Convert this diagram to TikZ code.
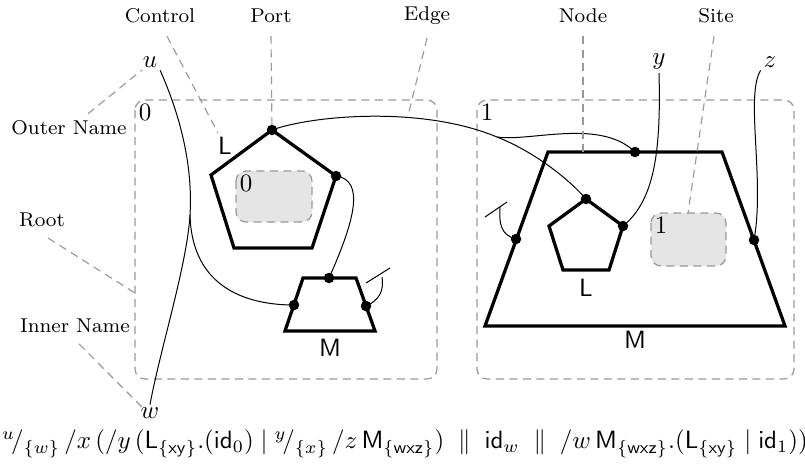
\documentclass[tikz,border=0pt]{standalone}
\usetikzlibrary{calc}
\begin{document}
\begin{tikzpicture}[x=0.4pt,y=-0.4pt,
  lead/.style={draw=black!40, line width=0.45pt, dash pattern=on 3.2pt off 2.2pt},
  rootbox/.style={draw=black!40, line width=0.5pt, dash pattern=on 3.2pt off 2.2pt, rounded corners=4pt},
  sitebox/.style={draw=black!40, fill=black!10, line width=0.5pt, dash pattern=on 3.2pt off 2.2pt, rounded corners=4pt},
  ctrl/.style={draw=black, line width=1.3pt},
  link/.style={draw=black, line width=0.4pt},
  port/.style={circle, fill=black, inner sep=0pt, minimum size=4.2pt},
  lbl/.style={font=\footnotesize, inner sep=1pt},
  sflbl/.style={font=\sffamily, inner sep=1pt},
  namelbl/.style={inner sep=1pt}]
\useasboundingbox (0,0) rectangle (805,473);

% roots
\draw[rootbox] (135,100) rectangle (437,379);
\draw[rootbox] (477,100) rectangle (794,379);
\node[inner sep=0pt] (r0) at (145,112) {0};
\node[inner sep=0pt] (r1) at (487,112) {1};

% sites
\draw[sitebox] (236,171) rectangle (312,222);
\node[inner sep=0pt] (s0) at (246,183) {0};
\draw[sitebox] (651,213) rectangle (726,266);
\node[inner sep=0pt] (s1) at (661,225) {1};

% controls
\draw[ctrl] (272,130) -- (336,176) -- (312,248) -- (234,248) -- (211,175) -- cycle;
\draw[ctrl] (303,278) -- (356,278) -- (375,331) -- (285,331) -- cycle;
\draw[ctrl] (548,152) -- (722,152) -- (785,326) -- (485,326) -- cycle;
\draw[ctrl] (586,199) -- (623,226) -- (609,270) -- (563,270) -- (549,226) -- cycle;
\node[sflbl] (lL0) at (225,146) {L};
\node[sflbl] (lM0) at (330,348) {M};
\node[sflbl] (lM1) at (635,340) {M};
\node[sflbl] (lL1) at (586,288) {L};

% ports
\coordinate (pL0t) at (272,130);
\coordinate (pL0r) at (336,176);
\coordinate (pM0t) at (329,278);
\coordinate (pM0l) at (294,305);
\coordinate (pM0r) at (366,306);
\coordinate (pM1t) at (635,152);
\coordinate (pM1l) at (516,239);
\coordinate (pM1r) at (754,240);
\coordinate (pL1t) at (586,199);
\coordinate (pL1r) at (623,226);

% names
\node[namelbl] (u) at (150,62) {$u$};
\node[namelbl] (w) at (150,413) {$w$};
\node[namelbl] (y) at (659,62) {$y$};
\node[namelbl] (z) at (770,62) {$z$};

% junctions and idle-edge bars
\coordinate (J1) at (190,215);
\coordinate (J2) at (497,137);
\coordinate (b0a) at (366,283);
\coordinate (b0b) at (390,268);
\coordinate (e0) at (382,277);
\coordinate (b1a) at (485,217);
\coordinate (b1b) at (507,202);
\coordinate (e1) at (500,207);

% links
\draw[link] (u.south east) .. controls (180,115) and (193,165) .. (J1)
   .. controls (187,265) and (160,350) .. (w.north);
\draw[link] (J1) .. controls (192,290) and (250,305) .. (pM0l);
\draw[link] (pL0t) .. controls (310,116) and (420,105) .. (J2);
\draw[link] (J2) .. controls (530,150) and (565,175) .. (pL1t);
\draw[link] (J2) .. controls (530,142) and (600,118) .. (pM1t);
\draw[link] (pL0r) .. controls (365,180) and (355,220) .. (pM0t);
\draw[link] (pM0r) .. controls (380,300) and (384,290) .. (e0);
\draw[link] (b0a) -- (b0b);
\draw[link] (pM1l) .. controls (500,235) and (499,222) .. (e1);
\draw[link] (b1a) -- (b1b);
\draw[link] (y.south) .. controls (661,150) and (655,200) .. (pL1r);
\draw[link] (z.south west) .. controls (745,95) and (765,180) .. (pM1r);

% port dots
\foreach \p in {pL0t,pL0r,pM0t,pM0l,pM0r,pM1t,pM1l,pM1r,pL1t,pL1r}
  \node[port] at (\p) {};

% annotation labels
\node[lbl] (control) at (160,16) {Control};
\node[lbl] (portlbl) at (271,16) {Port};
\node[lbl] (edge) at (427,16) {Edge};
\node[lbl] (nodelbl) at (583,16) {Node};
\node[lbl] (site) at (716,16) {Site};
\node[lbl] (outer) at (69,128) {Outer Name};
\node[lbl] (root) at (42,220) {Root};
\node[lbl] (inner) at (75,326) {Inner Name};

\coordinate (cL) at (218,133);
\coordinate (cE) at (408,116);
\coordinate (cN) at (583,152);
\coordinate (cS) at (688,213);
\coordinate (cO) at (142,70);
\coordinate (cR) at (135,293);
\coordinate (cI) at (142,407);

\draw[lead] ($(control.south)+(7,10)$) -- (cL);
\draw[lead] ($(portlbl.south)+(0,10)$) -- (pL0t);
\draw[lead] ($(edge.south)+(0,10)$) -- (cE);
\draw[lead] ($(nodelbl.south)+(0,10)$) -- (cN);
\draw[lead] ($(site.south)+(-2,10)$) -- (cS);
\draw[lead] ($(outer.north)+(19,-4)$) -- (cO);
\draw[lead] ($(root.south)+(6,8)$) -- (cR);
\draw[lead] ($(inner.south)+(4,8)$) -- (cI);

% term
\node[inner sep=0pt] (term) at (405,444) {$^{u}\!/_{\{w\}}\,/x\,(/y\,(\mathsf{L}_{\{\mathsf{xy}\}}.(\mathsf{id}_0) \mid {}^{y}\!/_{\{x\}}\,/z\,\mathsf{M}_{\{\mathsf{wxz}\}})\;\parallel\;\mathsf{id}_w\;\parallel\;/w\,\mathsf{M}_{\{\mathsf{wxz}\}}.(\mathsf{L}_{\{\mathsf{xy}\}} \mid \mathsf{id}_1))$};
\end{tikzpicture}
\end{document}
